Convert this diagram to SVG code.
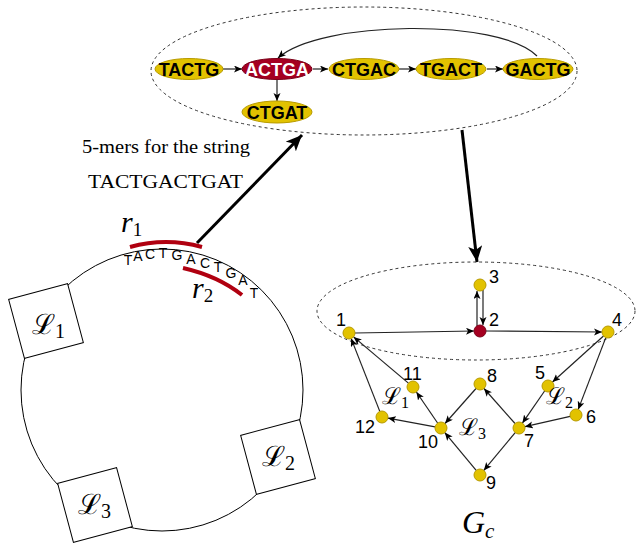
<svg xmlns="http://www.w3.org/2000/svg" width="636" height="546" viewBox="0 0 636 546">
<style>
.kn{fill:#E2C200;stroke:#B89B00;stroke-width:1}
.kr{fill:#A50021;stroke:#7a0018;stroke-width:1}
.kt{font-family:"Liberation Sans",Arial,sans-serif;font-weight:bold;font-size:18px;text-anchor:middle}
.e{stroke:#222;stroke-width:1.2;fill:none;marker-end:url(#ah)}
.g{fill:#E2C200;stroke:#B89B00;stroke-width:1}
.gr{fill:#A50021;stroke:#7a0018;stroke-width:1}
.num{font-family:"Liberation Sans",Arial,sans-serif;font-size:18px;fill:#000}
.dash{fill:none;stroke:#333;stroke-width:1;stroke-dasharray:3,3}
.big{stroke:#000;stroke-width:3;fill:none;marker-end:url(#bh)}
.ser{font-family:"Liberation Serif","Times New Roman",serif;fill:#000}
.cal{font-family:"DejaVu Serif",serif;fill:#000}
.sub{font-family:"Liberation Serif","Times New Roman",serif}
.sq{fill:#fff;stroke:#000;stroke-width:1}
.ltr{font-family:"Liberation Sans",Arial,sans-serif;font-size:14px;text-anchor:middle;fill:#000}
</style>
<defs>
<marker id="ah" markerUnits="userSpaceOnUse" markerWidth="10" markerHeight="8" refX="8" refY="3.5" orient="auto">
<path d="M0,0 L8,3.5 L0,7 L2,3.5 z" fill="#000"/>
</marker>
<marker id="bh" markerUnits="userSpaceOnUse" markerWidth="18" markerHeight="14" refX="16" refY="7" orient="auto">
<path d="M0,0 L16,7 L0,14 L4,7 z" fill="#000"/>
</marker>
</defs>

<!-- left: circular genome -->
<g id="genome">
<circle cx="162" cy="390" r="141" fill="none" stroke="#000" stroke-width="1"/>
</g>
<g id="sqL1">
<rect class="sq" x="-30.5" y="-30.5" width="61" height="61" transform="translate(46,321) rotate(-15)"/>
<text class="cal" x="32" y="334" font-size="28">ℒ<tspan class="sub" font-size="20" dy="4">1</tspan></text>
</g>
<g id="sqL2">
<rect class="sq" x="-30.5" y="-30.5" width="61" height="61" transform="translate(278,457) rotate(-15)"/>
<text class="cal" x="262" y="466" font-size="28">ℒ<tspan class="sub" font-size="20" dy="4">2</tspan></text>
</g>
<g id="sqL3">
<rect class="sq" x="-30.5" y="-30.5" width="61" height="61" transform="translate(95,505) rotate(-15)"/>
<text class="cal" x="78" y="514" font-size="28">ℒ<tspan class="sub" font-size="20" dy="4">3</tspan></text>
</g>

<g id="circleLetters">
<text class="ltr" x="128" y="265">T</text>
<text class="ltr" x="138" y="261">A</text>
<text class="ltr" x="150" y="259">C</text>
<text class="ltr" x="163" y="258">T</text>
<text class="ltr" x="177" y="260">G</text>
<text class="ltr" x="191" y="264">A</text>
<text class="ltr" x="205" y="268">C</text>
<text class="ltr" x="218" y="272">T</text>
<text class="ltr" x="231" y="278">G</text>
<text class="ltr" x="243" y="285">A</text>
<text class="ltr" x="254" y="298">T</text>
</g>

<g id="reads">
<path d="M130,247 Q166,237 202,247" fill="none" stroke="#B00010" stroke-width="4"/>
<path d="M183,268 Q218,276 242,295" fill="none" stroke="#B00010" stroke-width="4"/>
<text class="ser" x="121" y="232" font-size="30" font-style="italic">r<tspan font-size="19" dy="4" font-style="normal">1</tspan></text>
<text class="ser" x="192" y="298" font-size="30" font-style="italic">r<tspan font-size="19" dy="4" font-style="normal">2</tspan></text>
</g>

<g id="caption">
<text class="ser" x="82" y="153" font-size="18" textLength="168" lengthAdjust="spacingAndGlyphs">5-mers for the string</text>
<text class="ser" x="88" y="188" font-size="19" textLength="155" lengthAdjust="spacingAndGlyphs">TACTGACTGAT</text>
</g>

<!-- top: de Bruijn graph -->
<g id="kmerRegion"><ellipse class="dash" cx="364" cy="71" rx="213" ry="64"/></g>

<g id="kmerEdges">
<line class="e" x1="223" y1="69" x2="242" y2="69"/>
<line class="e" x1="313" y1="69" x2="328" y2="69"/>
<line class="e" x1="399" y1="69" x2="416" y2="69"/>
<line class="e" x1="487" y1="69" x2="503" y2="69"/>
<line class="e" x1="277" y1="80" x2="277" y2="101"/>
<path class="e" d="M537,56 C500,18 320,20 278,58"/>
</g>
<g id="k_TACTG"><ellipse class="kn" cx="189" cy="69" rx="34" ry="10.5"/><text class="kt" x="189" y="75.5">TACTG</text></g>
<g id="k_ACTGA"><ellipse class="kr" cx="277" cy="69" rx="35" ry="10.5"/><text class="kt" x="277" y="75.5" fill="#fff">ACTGA</text></g>
<g id="k_CTGAC"><ellipse class="kn" cx="364" cy="69" rx="35" ry="10.5"/><text class="kt" x="364" y="75.5">CTGAC</text></g>
<g id="k_TGACT"><ellipse class="kn" cx="451" cy="69" rx="35" ry="10.5"/><text class="kt" x="451" y="75.5">TGACT</text></g>
<g id="k_GACTG"><ellipse class="kn" cx="538" cy="69" rx="35" ry="10.5"/><text class="kt" x="538" y="75.5">GACTG</text></g>
<g id="k_CTGAT"><ellipse class="kn" cx="277" cy="112" rx="35" ry="11"/><text class="kt" x="277" y="118.5">CTGAT</text></g>

<g id="bigArrows">
<line class="big" x1="197" y1="243" x2="302" y2="135"/>
<line class="big" x1="462" y1="130" x2="477" y2="262"/>
</g>

<!-- right: Gc -->
<g id="gcRegion"><ellipse class="dash" cx="476" cy="311" rx="159" ry="49"/></g>

<g id="gcEdges">
<line class="e" x1="355" y1="333" x2="474" y2="331"/>
<line class="e" x1="486" y1="331" x2="602" y2="332"/>
<line class="e" x1="477" y1="326" x2="477" y2="291"/>
<line class="e" x1="483" y1="290" x2="483" y2="325"/>
<line class="e" x1="603.5" y1="336" x2="552.5" y2="382"/>
<line class="e" x1="605.8" y1="337.6" x2="578.2" y2="409.4"/>
<line class="e" x1="544.6" y1="391" x2="522.4" y2="423.1"/>
<line class="e" x1="570.2" y1="416.3" x2="524.9" y2="426.7"/>
<line class="e" x1="515" y1="423.5" x2="484" y2="388.5"/>
<line class="e" x1="515.2" y1="432.6" x2="483.8" y2="470.4"/>
<line class="e" x1="476" y1="388.5" x2="445" y2="423.5"/>
<line class="e" x1="476.2" y1="470.4" x2="444.8" y2="432.6"/>
<line class="e" x1="437.6" y1="423" x2="416.4" y2="392"/>
<line class="e" x1="435.1" y1="426.9" x2="387.9" y2="418.1"/>
<line class="e" x1="408.4" y1="383.1" x2="353.6" y2="336.9"/>
<line class="e" x1="379.8" y1="411.4" x2="351.2" y2="338.6"/>
</g>

<g id="n1"><circle class="g" cx="349" cy="333" r="6"/><text class="num" x="336" y="326">1</text></g>
<g id="n2"><circle class="gr" cx="480" cy="331" r="6"/><text class="num" x="489" y="326">2</text></g>
<g id="n3"><circle class="g" cx="480" cy="285" r="6"/><text class="num" x="489" y="283">3</text></g>
<g id="n4"><circle class="g" cx="608" cy="332" r="6"/><text class="num" x="612" y="326">4</text></g>
<g id="n5"><circle class="g" cx="548" cy="386" r="6"/><text class="num" x="535" y="379">5</text></g>
<g id="n6"><circle class="g" cx="576" cy="415" r="6"/><text class="num" x="586" y="423">6</text></g>
<g id="n7"><circle class="g" cx="519" cy="428" r="6"/><text class="num" x="524" y="447">7</text></g>
<g id="n8"><circle class="g" cx="480" cy="384" r="6"/><text class="num" x="487" y="382">8</text></g>
<g id="n9"><circle class="g" cx="480" cy="475" r="6"/><text class="num" x="486" y="489">9</text></g>
<g id="n10"><circle class="g" cx="441" cy="428" r="6"/><text class="num" x="418" y="448">10</text></g>
<g id="n11"><circle class="g" cx="413" cy="387" r="6"/><text class="num" x="403" y="380">11</text></g>
<g id="n12"><circle class="g" cx="382" cy="417" r="6"/><text class="num" x="355" y="433">12</text></g>

<g id="gcLabels">
<text class="cal" x="382" y="404" font-size="23">ℒ<tspan class="sub" font-size="16" dy="4">1</tspan></text>
<text class="cal" x="546" y="404" font-size="23">ℒ<tspan class="sub" font-size="16" dy="4">2</tspan></text>
<text class="cal" x="459" y="435" font-size="23">ℒ<tspan class="sub" font-size="16" dy="4">3</tspan></text>
<text class="ser" x="462" y="533" font-size="32" font-style="italic">G<tspan font-size="21" dy="5">c</tspan></text>
</g>
</svg>
